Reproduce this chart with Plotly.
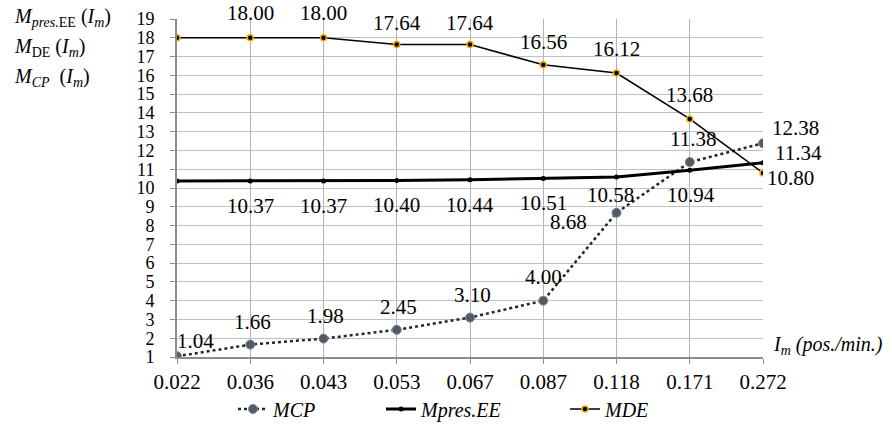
import plotly.graph_objects as go

categories = ["0.022", "0.036", "0.043", "0.053", "0.067", "0.087", "0.118", "0.171", "0.272"]
mcp = [1.04, 1.66, 1.98, 2.45, 3.10, 4.00, 8.68, 11.38, 12.38]
mpres = [10.37, 10.37, 10.37, 10.40, 10.44, 10.51, 10.58, 10.94, 11.34]
mde = [18.00, 18.00, 18.00, 17.64, 17.64, 16.56, 16.12, 13.68, 10.80]
y_ticks = list(range(1, 20))

# label offsets in pixels (dx, dy), None = no label
mcp_off = [(18, 15), (2, 23), (2, 23), (2, 23), (2, 23), (0, 24), (-48, -9), (3, 23), (32, 15)]
mpres_off = [None, (0, -25), (0, -25), (0, -25), (0, -25), (0, -25), (-6, -18), (1, -25), (35, 10)]
mde_off = [None, (0, 25), (0, 25), (0, 22), (0, 22), (0, 23), (0, 24), (0, 24), (27, -5)]

SERIF = "Liberation Serif"
xi = list(range(len(categories)))
W, H = 892, 427
L, R, T, B = 177, 129, 19, 2
AXIS_BOTTOM = 357  # pixel row of the x axis
plot_w = W - L - R
plot_h = H - T - B
y_dom_low = (H - B - AXIS_BOTTOM) / plot_h


def px_x(p):
    return (p - L) / plot_w


def px_y(p):
    return (H - B - p) / plot_h


fig = go.Figure()
fig.add_trace(go.Scatter(
    x=xi, y=mcp, name="<i>MCP</i>", mode="lines+markers", legend="legend",
    line=dict(color="#262626", width=2.5, dash="dot"),
    marker=dict(size=9, color="#595959", line=dict(color="#5b8bc0", width=1)),
))
fig.add_trace(go.Scatter(
    x=xi, y=mpres, name="<i>Mpres.EE</i>", mode="lines+markers", legend="legend2",
    line=dict(color="black", width=3),
    marker=dict(size=5, color="black"),
))
fig.add_trace(go.Scatter(
    x=xi, y=mde, name="<i>MDE</i>", mode="lines+markers", legend="legend3",
    line=dict(color="black", width=1.6),
    marker=dict(size=6, color="black", line=dict(color="#f0b000", width=1.5)),
))

annotations = []
for vals, offs in ((mcp, mcp_off), (mpres, mpres_off), (mde, mde_off)):
    for i, v, o in zip(xi, vals, offs):
        if o is None:
            continue
        annotations.append(dict(
            x=i, y=v, xref="x", yref="y", text=f"{v:.2f}", showarrow=False,
            xshift=o[0], yshift=o[1], xanchor="center", yanchor="middle",
            font=dict(family=SERIF, size=21, color="black"),
        ))

title_lines = [
    "<i>M</i><sub><i>pres.</i>EE</sub> (<i>I</i><sub><i>m</i></sub>)",
    "<i>M</i><sub>DE</sub> (<i>I</i><sub><i>m</i></sub>)",
    "<i>M</i><sub><i>CP</i></sub>  (<i>I</i><sub><i>m</i></sub>)",
]
title_py = [18, 47.5, 77]
for t, py in zip(title_lines, title_py):
    annotations.append(dict(
        x=px_x(12), y=px_y(py), xref="paper", yref="paper",
        text=t, showarrow=False, xanchor="left", yanchor="middle",
        font=dict(family=SERIF, size=20, color="black"),
    ))
annotations.append(dict(
    x=1.0, y=px_y(345), xref="paper", yref="paper",
    text="<i>I</i><sub><i>m</i></sub><i> (pos./min.)</i>",
    showarrow=False, xanchor="left", yanchor="middle", xshift=8,
    font=dict(family=SERIF, size=20, color="black"),
))

leg_common = dict(orientation="h", xanchor="left", yanchor="middle", y=px_y(409),
                  font=dict(family=SERIF, size=20, color="black"),
                  bgcolor="rgba(0,0,0,0)", borderwidth=0)

fig.update_layout(
    width=W, height=H,
    margin=dict(l=L, r=R, t=T, b=B, autoexpand=False),
    plot_bgcolor="white", paper_bgcolor="white",
    font=dict(family=SERIF, color="black"),
    showlegend=True,
    legend=dict(leg_common, x=px_x(233)),
    legend2=dict(leg_common, x=px_x(381)),
    legend3=dict(leg_common, x=px_x(565)),
    xaxis=dict(range=[0, 8], tickvals=xi, ticktext=categories, showgrid=True,
               gridcolor="#b3b3b3", gridwidth=1, automargin=False,
               showline=True, linecolor="#8c8c8c", linewidth=2, ticks="outside", ticklen=5,
               tickcolor="#8c8c8c", tickfont=dict(family=SERIF, size=21, color="black"),
               ticklabelstandoff=0, zeroline=False),
    yaxis=dict(range=[1, 19], tickvals=y_ticks, domain=[y_dom_low, 1], showgrid=True,
               gridcolor="#bfbfbf", gridwidth=1, automargin=False,
               showline=True, linecolor="#8c8c8c", linewidth=2, ticks="outside", ticklen=5,
               tickcolor="#8c8c8c", tickfont=dict(family=SERIF, size=18, color="black"),
               ticklabelstandoff=12, zeroline=False),
    annotations=annotations,
)

fig.write_html("out.html", config={"displayModeBar": False},
               post_script="document.body.style.margin='0';")
